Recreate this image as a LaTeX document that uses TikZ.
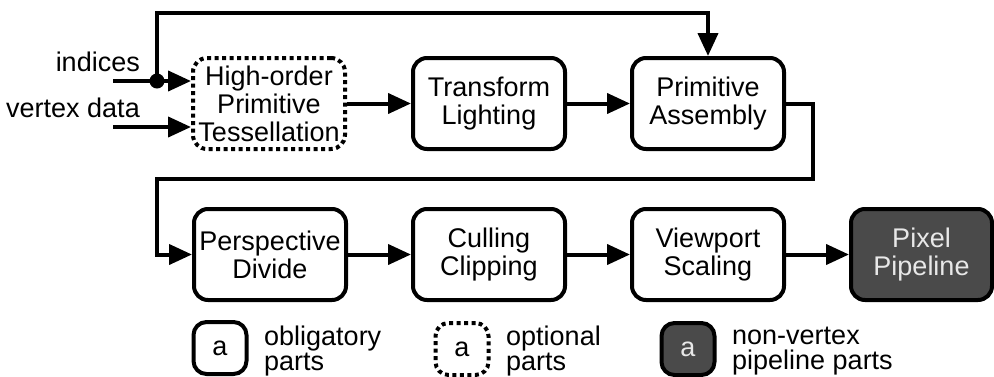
\documentclass[tikz,border=0pt]{standalone}
\usepackage{fontspec}
\setmainfont{Liberation Sans}
\usetikzlibrary{arrows.meta}
\definecolor{stagegray}{HTML}{4A4A4A}
\definecolor{stagetext}{HTML}{E8E8E8}

\begin{document}
\begin{tikzpicture}[
  x=1pt, y=-1pt,
  every node/.style={inner sep=0pt, font=\fontsize{27}{28}\selectfont},
  stage/.style={draw, line width=4pt, rounded corners=14pt, align=center,
    minimum width=152pt, minimum height=91pt},
  optstage/.style={stage, dash pattern=on 4pt off 3.5pt},
  pixstage/.style={stage, fill=stagegray, text=stagetext},
  key/.style={draw, line width=4pt, rounded corners=13pt,
    minimum width=53pt, minimum height=52pt},
  joint/.style={circle, fill=black, minimum size=15pt, inner sep=0pt},
  arrow/.style={draw, line width=4pt, -{Triangle[length=23pt, width=20pt]}}]

  \useasboundingbox (0,0) rectangle (994,376);

  % stages
  \node[optstage] (hot) at (269,103.5) {High-order\\Primitive\\Tessellation};
  \node[stage]    (tl)  at (489,103.5) {Transform\\Lighting};
  \node[stage]    (pa)  at (708,103.5) {Primitive\\Assembly};
  \node[stage]    (pd)  at (270,254.5) {Perspective\\Divide};
  \node[stage]    (cc)  at (489,254.5) {Culling\\Clipping};
  \node[stage]    (vs)  at (708,254.5) {Viewport\\Scaling};
  \node[pixstage, minimum width=141pt] (pp) at (921.5,254.5) {Pixel\\Pipeline};

  % inputs and bends
  \coordinate (idx) at (113,81);
  \coordinate (vtx) at (113,127);
  \node[joint] (fork) at (157,81) {};
  \coordinate (over) at (157,13);
  \coordinate (turn) at (813,179);
  \coordinate (back) at (157,179);

  % arrows
  \draw[arrow] (idx) -- (hot.west |- idx);
  \draw[arrow] (vtx) -- (hot.west |- vtx);
  \draw[arrow] (fork.center) -- (over) -| (pa.north);
  \draw[arrow] (hot) -- (tl);
  \draw[arrow] (tl) -- (pa);
  \draw[arrow] (pa.east) -| (turn) -- (back) |- (pd.west);
  \draw[arrow] (pd) -- (cc);
  \draw[arrow] (cc) -- (vs);
  \draw[arrow] (vs) -- (pp);

  % input labels
  \node[anchor=base east] (lidx) at (140,71) {indices};
  \node[anchor=base east] (lvtx) at (140,117) {vertex data};

  % legend
  \node[key] (kob) at (220,348) {a};
  \node[key, dash pattern=on 4pt off 3.5pt] (kop) at (462,349) {a};
  \node[key, fill=stagegray, text=stagetext] (knv) at (688,349) {a};
  \node[anchor=west, align=left, font=\fontsize{27}{25}\selectfont] (tob) at (264,351) {obligatory\\parts};
  \node[anchor=west, align=left, font=\fontsize{27}{25}\selectfont] (top) at (506,351) {optional\\parts};
  \node[anchor=west, align=left, font=\fontsize{27}{25}\selectfont] (tnv) at (732,351) {non-vertex\\pipeline parts};
\end{tikzpicture}
\end{document}
